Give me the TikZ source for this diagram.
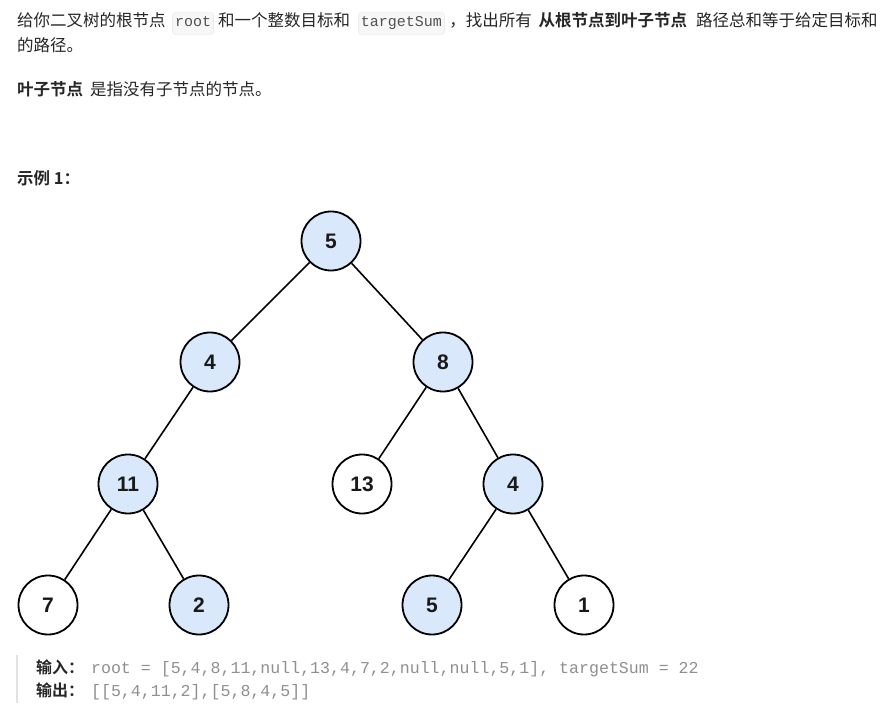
\documentclass[tikz,border=0pt]{standalone}
\usepackage{fontspec}
\setmainfont{Liberation Sans}
\newfontfamily\cjk{Noto Sans CJK SC}[BoldFont={Noto Sans CJK SC Bold}]
\newfontfamily\codefont{Liberation Mono}
\usetikzlibrary{positioning}

\definecolor{nodeblue}{HTML}{DAE8FC}
\definecolor{bodytext}{HTML}{262626}
\definecolor{codegrey}{HTML}{8F8F8F}
\definecolor{codebg}{HTML}{F7F7F7}
\definecolor{codeline}{HTML}{E4E4E4}
\definecolor{quotebar}{HTML}{E2E2E2}

\tikzset{
  para/.style={inner sep=0pt, text=bodytext, font=\cjk\fontsize{16.5}{20}\selectfont},
  parabold/.style={para, font=\cjk\bfseries\fontsize{16.5}{20}\selectfont},
  inlinecode/.style={draw=codeline, fill=codebg, rounded corners=3pt, inner xsep=2.5pt,
    text height=11pt, text depth=4pt, inner ysep=3.5pt, text=bodytext!80,
    font=\codefont\fontsize{15}{18}\selectfont},
  label/.style={inner sep=0pt, text=bodytext, font=\cjk\bfseries\fontsize{16}{20}\selectfont},
  code/.style={inner sep=0pt, text=codegrey, font=\codefont\fontsize{16.6}{20}\selectfont},
  treenode/.style={circle, draw=black, line width=1.8pt, minimum size=59pt, inner sep=0pt,
    text=black!90, font=\bfseries\fontsize{21}{24}\selectfont},
  hit/.style={treenode, fill=nodeblue},
  miss/.style={treenode, fill=white},
  branch/.style={line width=1.6pt, black},
}

\begin{document}
\begin{tikzpicture}[x=1pt, y=-1pt]
 \useasboundingbox (0,0) rectangle (881,708);

 % question text
 \node[para, anchor=base west] (q1) at (17,27) {给你二叉树的根节点};
 \node[inlinecode, base right=6.5pt of q1] (c1) {root};
 \node[para, base right=4pt of c1] (q2) {和一个整数目标和};
 \node[inlinecode, base right=8pt of q2] (c2) {targetSum};
 \node[para, base right=4.5pt of c2] (q3) {，找出所有};
 \node[parabold, base right=6.5pt of q3] (q4) {从根节点到叶子节点};
 \node[para, base right=8.5pt of q4] (q5) {路径总和等于给定目标和};
 \node[para, anchor=base west] (q6) at (17,52) {的路径。};

 \node[parabold, anchor=base west] (leaf) at (17,95.5) {叶子节点};
 \node[para, base right=6.5pt of leaf] (leafdef) {是指没有子节点的节点。};

 \node[parabold, anchor=base west] (ex) at (17,184.5) {示例 1：};

 % the tree
 \node[hit]  (n5)  at (331,241) {5};
 \node[hit]  (n4)  at (210,362) {4};
 \node[hit]  (n8)  at (443,362) {8};
 \node[hit]  (n11) at (128,484) {11};
 \node[miss] (n13) at (362,484) {13};
 \node[hit]  (n4b) at (513,484) {4};
 \node[miss] (n7)  at (48,605)  {7};
 \node[hit]  (n2)  at (199,605) {2};
 \node[hit]  (n5b) at (432,605) {5};
 \node[miss] (n1)  at (584,605) {1};

 \draw[branch] (n5) -- (n4);
 \draw[branch] (n5) -- (n8);
 \draw[branch] (n4) -- (n11);
 \draw[branch] (n8) -- (n13);
 \draw[branch] (n8) -- (n4b);
 \draw[branch] (n11) -- (n7);
 \draw[branch] (n11) -- (n2);
 \draw[branch] (n4b) -- (n5b);
 \draw[branch] (n4b) -- (n1);

 % input / output block
 \coordinate (bartop) at (17,655);
 \coordinate (barbot) at (17,703);
 \draw[quotebar, line width=2.5pt] (bartop) -- (barbot);
 \node[label, anchor=base west] (in) at (36,673) {输入：};
 \node[code, base right=6.5pt of in] (incode) {root = [5,4,8,11,null,13,4,7,2,null,null,5,1], targetSum = 22};
 \node[label, anchor=base west] (out) at (36,696.5) {输出：};
 \node[code, base right=6.5pt of out] (outcode) {[[5,4,11,2],[5,8,4,5]]};
\end{tikzpicture}
\end{document}
